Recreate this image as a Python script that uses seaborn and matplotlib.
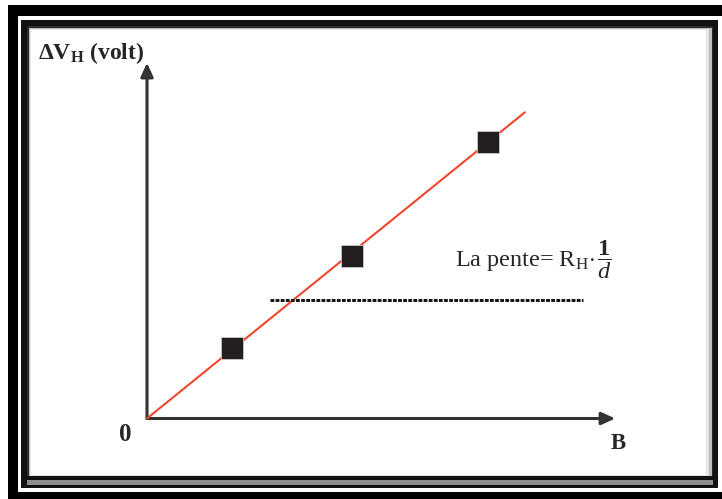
import matplotlib
matplotlib.use("Agg")
import matplotlib.pyplot as plt
from matplotlib.patches import Rectangle
import seaborn as sns
import pandas as pd

# ---- data ----
B_points = [1.0, 2.4, 4.0]
V_points = [0.83, 1.90, 3.24]
B_fit = [0.0, 4.43]
V_fit = [0.0, 3.59]
B_dotted = [1.44, 5.11]
V_dotted = [1.39, 1.39]
x_axis_end = 5.49
y_axis_end = 4.17
y_label = r"$\mathbf{\Delta V_{H}}$" + " (volt)"
x_label = "B"
origin_label = "0"
slope_label = r"La pente= R$_{\mathrm{H}}$$\cdot\,\dfrac{\mathbf{1}}{d}$"

sns.set_theme(style="white")
plt.rcParams["font.family"] = ["Liberation Serif", "DejaVu Serif"]
plt.rcParams["mathtext.fontset"] = "custom"
plt.rcParams["mathtext.rm"] = "Liberation Serif"
plt.rcParams["mathtext.bf"] = "Liberation Serif:bold"
plt.rcParams["mathtext.it"] = "Liberation Serif:italic"

W, H = 722, 499
fig = plt.figure(figsize=(W / 100, H / 100), dpi=100)
fig.patch.set_facecolor("white")

def frect(x0, y0, x1, y1, color, z=-10, alpha=1.0):
    fig.patches.append(Rectangle((x0 / W, 1 - y1 / H), (x1 - x0) / W, (y1 - y0) / H,
                                 transform=fig.transFigure, facecolor=color,
                                 edgecolor="none", zorder=z, alpha=alpha))

# decorative frame
frect(8, 5, 730, 505, "black", -10)
frect(18, 16, 730, 492, "white", -9)
frect(21, 20, 718, 488, "#111111", -8)
frect(27, 480, 713, 485, "#8c8c8c", -7)
frect(27, 26, 713, 476, "#2a2a2a", -7)
frect(29, 28, 712, 476, "#bdbdbd", -6)
frect(30, 29, 709, 476, "#e6e6e6", -5)
frect(31, 30, 706, 475, "white", -4)

ax = fig.add_axes([0, 0, 1, 1])
ax.set_zorder(1)
unit = 85.3
ox, oy = 147, 418.5
ax.set_xlim(-ox / unit, (W - ox) / unit)
ax.set_ylim((oy - H) / unit, oy / unit)
ax.axis("off")

axis_col = "#333333"
arrow_style = "-|>,head_length=0.55,head_width=0.25"
ax.annotate("", xy=(x_axis_end, 0), xytext=(0, 0),
            arrowprops=dict(arrowstyle=arrow_style, mutation_scale=15, color=axis_col,
                            lw=2.2, shrinkA=0, shrinkB=0), zorder=2)
ax.annotate("", xy=(0, y_axis_end), xytext=(0, 0),
            arrowprops=dict(arrowstyle=arrow_style, mutation_scale=15, color=axis_col,
                            lw=2.2, shrinkA=0, shrinkB=0), zorder=2)

fit_df = pd.DataFrame({"B": B_fit, "V": V_fit})
sns.lineplot(data=fit_df, x="B", y="V", ax=ax, color="#f2452e", lw=1.5, zorder=3)

pts_df = pd.DataFrame({"B": B_points, "V": V_points})
sns.scatterplot(data=pts_df, x="B", y="V", ax=ax, marker="s", s=260,
                color="#231f20", edgecolor="#c8c8c8", linewidth=0.6, zorder=4)

dot_df = pd.DataFrame({"B": B_dotted, "V": V_dotted})
sns.lineplot(data=dot_df, x="B", y="V", ax=ax, color="#111111", lw=2.1,
             dashes=False, zorder=3)
ax.lines[-1].set_dashes((1.3, 0.45))

ax.text(-0.26, -0.19, origin_label, fontsize=18, fontweight="bold", ha="center", va="center")
ax.text(5.52, -0.29, x_label, fontsize=16.5, fontweight="bold", ha="center", va="center")
ax.text(-1.28, 4.22, y_label, fontsize=17, fontweight="bold", ha="left", va="baseline")
ax.text(3.61, 1.78, slope_label, fontsize=17.5, ha="left", va="baseline")

ax.set_xlabel("")
ax.set_ylabel("")
fig.savefig("out.png", dpi=100)
